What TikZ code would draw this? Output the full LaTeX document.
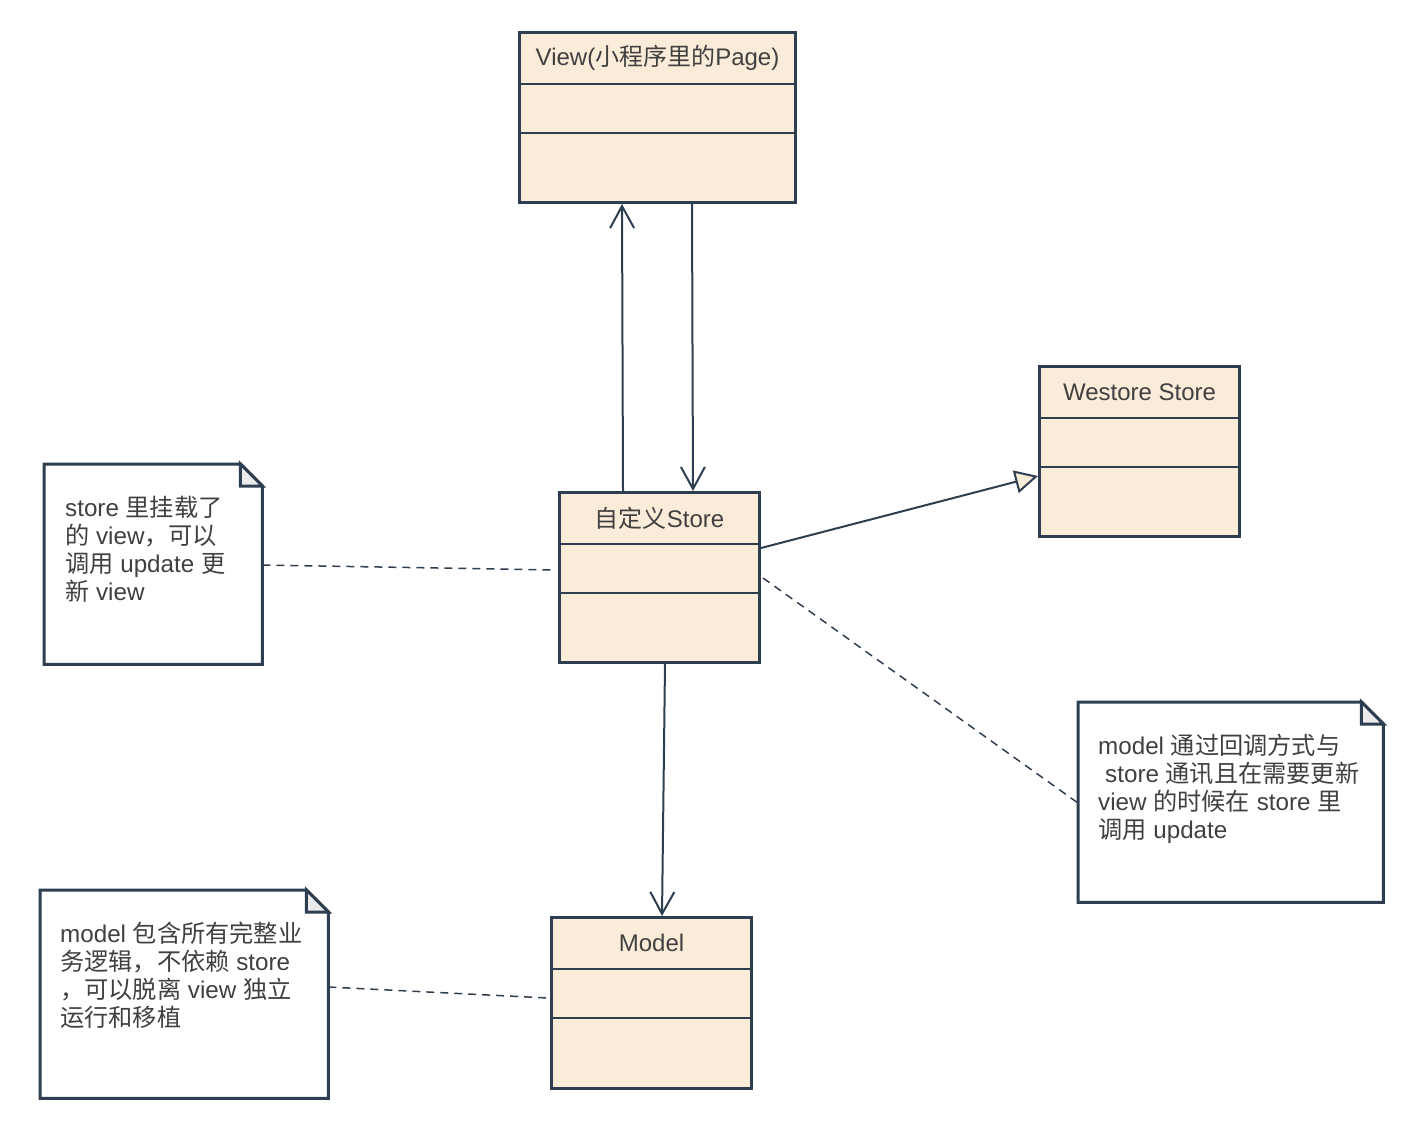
\documentclass[tikz,border=0pt]{standalone}
\usepackage{fontspec}
\setmainfont{Liberation Sans}
\newfontfamily\cjkfont{Noto Sans CJK SC}
\newcommand\zh[1]{{\cjkfont #1}}
\usetikzlibrary{arrows.meta}
\definecolor{boxfill}{HTML}{FBEBD9}
\definecolor{edge}{HTML}{2C3E50}
\definecolor{txt}{HTML}{404040}
\definecolor{foldc}{HTML}{EBEBEB}
\begin{document}
\begin{tikzpicture}[x=1pt,y=-1pt,
  classbox/.style={draw=edge, fill=boxfill, line width=3pt, inner sep=0pt, anchor=north west, minimum width=200pt, minimum height=170pt},
  divider/.style={draw=edge, line width=2pt},
  titletext/.style={text=txt, font=\fontsize{24}{28}\selectfont, inner sep=0pt},
  notearea/.style={draw=none, inner sep=0pt, anchor=north west},
  noteline/.style={draw=edge, fill=white, line width=3pt, line join=miter},
  foldline/.style={draw=edge, fill=foldc, line width=3pt, line join=miter},
  notetext/.style={text=txt, font=\fontsize{24.2}{28}\selectfont, align=left, inner sep=0pt, anchor=north west},
  assoc/.style={draw=edge, line width=2pt, -{Straight Barb[length=22pt,width=24pt,line width=2pt]}},
  general/.style={draw=edge, line width=2pt, -{Triangle[length=23pt,width=23pt,fill=boxfill,line width=2pt]}},
  anchorline/.style={draw=edge, line width=1.5pt, dash pattern=on 8pt off 6pt}
]
\useasboundingbox (0,0) rectangle (1420,1130);

% class boxes
\node[classbox, minimum width=276pt] (view) at (518,31) {};
\node[classbox] (store) at (558,491) {};
\node[classbox] (westore) at (1038,365) {};
\node[classbox, minimum height=171pt] (model) at (550,916) {};

\foreach \b in {view,store,westore,model}{
  \draw[divider] ([yshift=-53pt]\b.north west) -- ([yshift=-53pt]\b.north east);
  \draw[divider] ([yshift=-102pt]\b.north west) -- ([yshift=-102pt]\b.north east);
}

\node[titletext] (viewt) at ([yshift=-27pt]view.north) {View(\zh{小程序里的}Page)};
\node[titletext] (storet) at ([yshift=-27pt]store.north) {\zh{自定义}Store};
\node[titletext] (westoret) at ([yshift=-27pt]westore.north) {Westore Store};
\node[titletext] (modelt) at ([yshift=-27pt]model.north) {Model};

% notes
\node[notearea, minimum width=218pt, minimum height=200pt] (n1) at (44,464) {};
\node[notearea, minimum width=305pt, minimum height=200pt] (n2) at (1078,702) {};
\node[notearea, minimum width=288pt, minimum height=208pt] (n3) at (40,890) {};

\foreach \n in {n1,n2,n3}{
  \path[noteline] (\n.north west) -- ([xshift=-22pt]\n.north east) -- ([yshift=-22pt]\n.north east) -- (\n.south east) -- (\n.south west) -- cycle;
  \path[foldline] ([xshift=-22pt]\n.north east) -- ([xshift=-22pt,yshift=-22pt]\n.north east) -- ([yshift=-22pt]\n.north east) -- cycle;
}

\node[notetext] (t1) at ([xshift=21pt,yshift=-32pt]n1.north west) {store \zh{里挂载了}\\\zh{的} view\zh{，可以}\\\zh{调用} update \zh{更}\\\zh{新} view};
\node[notetext] (t2) at ([xshift=20pt,yshift=-32pt]n2.north west) {model \zh{通过回调方式与}\\\hspace*{7pt}store \zh{通讯且在需要更新}\\view \zh{的时候在} store \zh{里}\\\zh{调用} update};
\node[notetext] (t3) at ([xshift=20pt,yshift=-32pt]n3.north west) {model \zh{包含所有完整业}\\\zh{务逻辑，不依赖} store\\\zh{，可以脱离} view \zh{独立}\\\zh{运行和移植}};

% connectors
\draw[assoc] ([xshift=65pt]store.north west) -- ([xshift=104pt]view.south west);
\draw[assoc] ([xshift=174pt]view.south west) -- ([xshift=135pt]store.north west);
\draw[assoc] ([xshift=107pt]store.south west) -- ([xshift=112pt]model.north west);
\draw[general] ([yshift=-57pt]store.north east) -- ([yshift=-111pt]westore.north west);

\draw[anchorline] ([yshift=-101pt]n1.north east) -- ([xshift=-3pt,yshift=-79pt]store.north west);
\draw[anchorline] ([xshift=2pt,yshift=-87pt]store.north east) -- ([yshift=-101pt]n2.north west);
\draw[anchorline] ([yshift=-97pt]n3.north east) -- ([xshift=-2pt,yshift=-82pt]model.north west);
\end{tikzpicture}
\end{document}
